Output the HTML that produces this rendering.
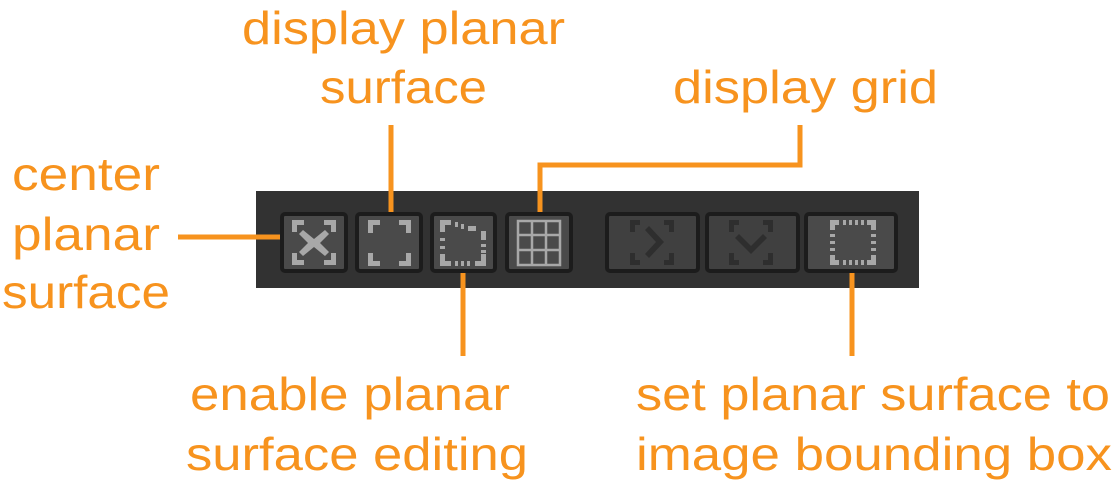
<!DOCTYPE html>
<html><head><style>html,body{margin:0;padding:0;background:#fff}svg{display:block}</style></head>
<body>
<svg width="1114" height="485" viewBox="0 0 1114 485" xmlns="http://www.w3.org/2000/svg">
<g font-family="Liberation Sans, sans-serif" font-size="46" fill="#f7931e">
<text x="242" y="44" textLength="323" lengthAdjust="spacingAndGlyphs">display planar</text>
<text x="320" y="103" textLength="167" lengthAdjust="spacingAndGlyphs">surface</text>
<text x="673" y="103" textLength="265" lengthAdjust="spacingAndGlyphs">display grid</text>
<text x="12" y="190" textLength="148" lengthAdjust="spacingAndGlyphs">center</text>
<text x="12" y="250" textLength="148" lengthAdjust="spacingAndGlyphs">planar</text>
<text x="2" y="308" textLength="168" lengthAdjust="spacingAndGlyphs">surface</text>
<text x="190" y="410" textLength="320" lengthAdjust="spacingAndGlyphs">enable planar</text>
<text x="186" y="470" textLength="342" lengthAdjust="spacingAndGlyphs">surface editing</text>
<text x="636" y="410" textLength="474" lengthAdjust="spacingAndGlyphs">set planar surface to</text>
<text x="636" y="470" textLength="476" lengthAdjust="spacingAndGlyphs">image bounding box</text>
</g>
<rect x="256" y="191" width="663" height="97" fill="#323232"/>
<g stroke="#f7931e" stroke-width="5" fill="none">
<line x1="178" y1="237" x2="282" y2="237"/>
<line x1="391" y1="125" x2="391" y2="213"/>
<polyline points="800,125 800,165 540,165 540,213"/>
<line x1="463" y1="272" x2="463" y2="356"/>
<line x1="852" y1="272" x2="852" y2="356"/>
</g>
<g stroke="#1c1c1c" stroke-width="4">
<rect x="282" y="214" width="64" height="57" rx="3" fill="#4a4a4a"/>
<rect x="357" y="214" width="64" height="57" rx="3" fill="#4a4a4a"/>
<rect x="432" y="214" width="63" height="57" rx="3" fill="#4a4a4a"/>
<rect x="507" y="214" width="64" height="57" rx="3" fill="#4a4a4a"/>
<rect x="607" y="214" width="91" height="57" rx="3" fill="#404040"/>
<rect x="707" y="214" width="91" height="57" rx="3" fill="#404040"/>
<rect x="806" y="214" width="90" height="57" rx="3" fill="#4a4a4a"/>
</g>
<g fill="#a8a8a8">
<!-- btn1 corners + X -->
<path d="M292 220h12v5h-7v7h-5zM336 220h-12v5h7v7h5zM292 265h12v-5h-7v-7h-5zM336 265h-12v-5h7v-7h5z"/>
<path d="M303 230l11 9 11-9 4 4-9 9 9 9-4 4-11-9-11 9-4-4 9-9-9-9z"/>
<!-- btn2 corners -->
<path d="M368 220h12v5h-7v8h-5zM411 220h-12v5h7v8h5zM368 266h12v-5h-7v-8h-5zM411 266h-12v-5h7v-8h5z"/>
<!-- btn3 -->
<path d="M440 220h11v5h-6v7h-5zM440 266h11v-5h-6v-7h-5zM486 266h-11v-5h6v-7h5zM468 226h8v5h-8zM481 231h5v9h-5z"/>
<rect x="455" y="222" width="3" height="5"/><rect x="461" y="224" width="3" height="5"/>
<rect x="440" y="238" width="5" height="3"/><rect x="440" y="246" width="5" height="3"/>
<rect x="481" y="244" width="5" height="3"/><rect x="481" y="250" width="5" height="3"/>
<rect x="455" y="261" width="3" height="5"/><rect x="461" y="261" width="3" height="5"/><rect x="467" y="261" width="3" height="5"/>
<!-- btn7 dotted -->
<path d="M830 220h9v5h-4v5h-5zM876 220h-9v5h4v5h5zM830 265h9v-5h-4v-5h-5zM876 265h-9v-5h4v-5h5z"/>
<rect x="843" y="220" width="3" height="5"/><rect x="849" y="220" width="3" height="5"/><rect x="855" y="220" width="3" height="5"/><rect x="861" y="220" width="3" height="5"/>
<rect x="843" y="260" width="3" height="5"/><rect x="849" y="260" width="3" height="5"/><rect x="855" y="260" width="3" height="5"/><rect x="861" y="260" width="3" height="5"/>
<rect x="830" y="234" width="5" height="3"/><rect x="830" y="241" width="5" height="3"/><rect x="830" y="248" width="5" height="3"/>
<rect x="871" y="234" width="5" height="3"/><rect x="871" y="241" width="5" height="3"/><rect x="871" y="248" width="5" height="3"/>
</g>
<!-- grid -->
<g fill="none" stroke="#a8a8a8" stroke-width="2.5">
<rect x="518" y="221" width="42" height="44"/>
<line x1="532" y1="221" x2="532" y2="265"/><line x1="546" y1="221" x2="546" y2="265"/>
<line x1="518" y1="235" x2="560" y2="235"/><line x1="518" y1="250" x2="560" y2="250"/>
</g>
<!-- disabled icons -->
<g fill="#2e2e2e">
<path d="M630 220h10v5h-5v7h-5zM674 220h-10v5h5v7h5zM630 265h10v-5h-5v-7h-5zM674 265h-10v-5h5v-7h5z"/>
<path d="M645 230l4-4 15 16-15 16-4-4 11-12z"/>
<path d="M729 220h10v5h-5v7h-5zM773 220h-10v5h5v7h5zM729 265h10v-5h-5v-7h-5zM773 265h-10v-5h5v-7h5z"/>
<path d="M735 238l4-4 12 12 12-12 4 4-16 16z"/>
</g>
</svg>
</body></html>
